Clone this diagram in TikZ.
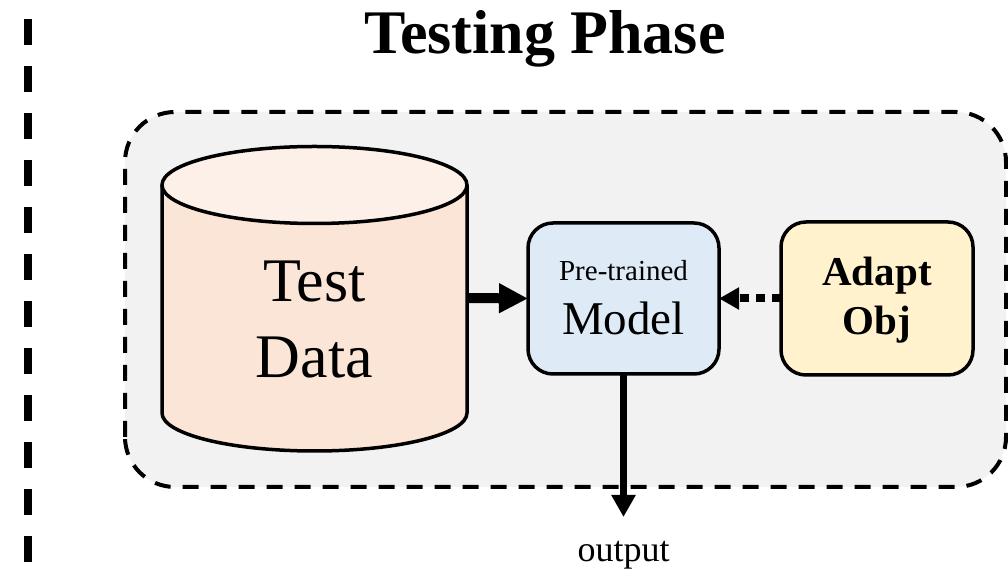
\documentclass[tikz,border=0pt]{standalone}
\usepackage{fontspec}
\setmainfont{Liberation Serif}
\usetikzlibrary{arrows.meta}
\definecolor{panelgray}{HTML}{F2F2F2}
\definecolor{peachbody}{HTML}{FBE5D6}
\definecolor{peachtop}{HTML}{FDF0E9}
\definecolor{modelblue}{HTML}{DEEBF7}
\definecolor{adaptyellow}{HTML}{FFF2CC}
\tikzset{
  boxstyle/.style={draw=black, line width=3.5pt, rounded corners=25pt, inner sep=0pt, outer sep=0pt},
  txt/.style={anchor=base, inner sep=0pt, outer sep=0pt},
}
\begin{document}
\begin{tikzpicture}[x=1pt,y=1pt]
\useasboundingbox (0,0) rectangle (1008,572);
% title
\node[txt, font=\fontsize{62}{62}\selectfont\bfseries] (title) at (545,518) {Testing Phase};
% left dashed separator
\coordinate (sepTop) at (28,553);
\coordinate (sepBot) at (28,0);
\draw[line width=8pt, dash pattern=on 26pt off 21pt] (sepTop) -- (sepBot);
% container
\draw[fill=panelgray, line width=4pt, dash pattern=on 16pt off 12pt, rounded corners=50pt] (125,85) rectangle (1006,460);
% cylinder
\fill[peachbody] (162,387) -- (162,159) arc[start angle=180, end angle=360, x radius=152.5pt, y radius=38pt] -- (467,387) -- cycle;
\draw[line width=3.5pt] (162,387) -- (162,159) arc[start angle=180, end angle=360, x radius=152.5pt, y radius=38pt] -- (467,387);
\draw[line width=3.5pt, fill=peachtop] (314.5,387) ellipse[x radius=152.5pt, y radius=38.5pt];
\node[inner sep=0pt, outer sep=0pt, minimum width=305pt, minimum height=300pt] (data) at (314.5,274) {};
\node[txt, font=\fontsize{62}{62}\selectfont] (dataA) at (314.5,270) {Test};
\node[txt, font=\fontsize{62}{62}\selectfont] (dataB) at (314.5,194) {Data};
% model
\node[boxstyle, fill=modelblue, minimum width=191pt, minimum height=151pt] (model) at (623.5,273.5) {};
\node[txt, font=\fontsize{29}{29}\selectfont] (modelA) at (623.5,291) {Pre-trained};
\node[txt, font=\fontsize{47}{47}\selectfont] (modelB) at (623.5,237) {Model};
% adapt
\node[boxstyle, fill=adaptyellow, minimum width=192pt, minimum height=153pt] (adapt) at (877,273.5) {};
\node[txt, font=\fontsize{41}{41}\selectfont\bfseries] (adaptA) at (877,286) {Adapt};
\node[txt, font=\fontsize{41}{41}\selectfont\bfseries] (adaptB) at (877,237) {Obj};
% output
\node[txt, font=\fontsize{36}{36}\selectfont] (out) at (623.5,10) {output};
\coordinate (outTip) at (623.5,55);
% arrows
\draw[line width=10pt, -{Triangle[length=29pt,width=28pt]}] (data.east) -- (model.west);
\draw[line width=8pt, dash pattern=on 9pt off 7pt, -{Triangle[length=20pt,width=21pt]}] (adapt.west) -- (model.east);
\draw[line width=7pt, -{Triangle[length=22pt,width=23pt]}] (model.south) -- (outTip);
\end{tikzpicture}
\end{document}
